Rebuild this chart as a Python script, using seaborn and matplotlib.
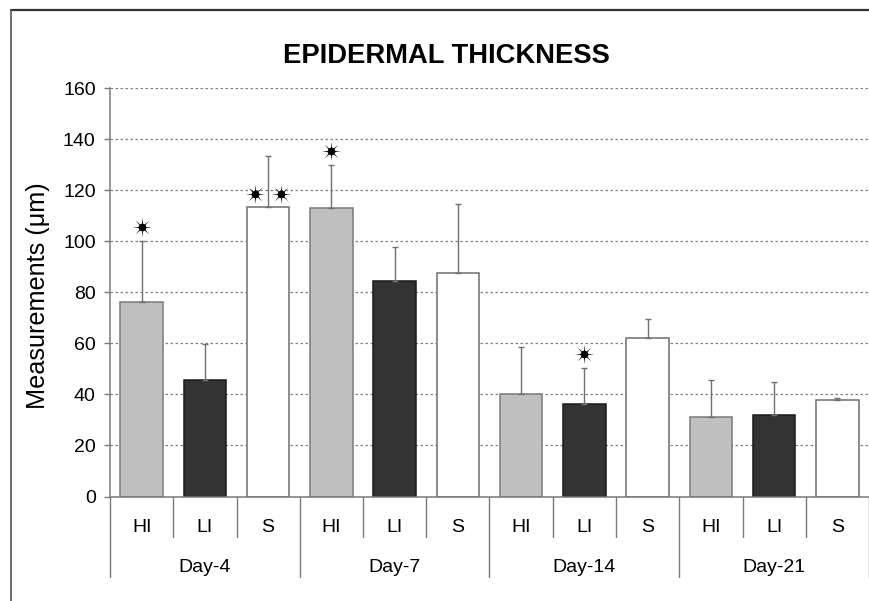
import numpy as np
import pandas as pd
import matplotlib
matplotlib.use("Agg")
import matplotlib.pyplot as plt
from matplotlib.path import Path
from matplotlib.lines import Line2D
from matplotlib.transforms import blended_transform_factory
import seaborn as sns

# Epidermal thickness per treatment group and day
days = ["Day-4", "Day-7", "Day-14", "Day-21"]
groups = ["HI", "LI", "S"]
hi_mean = [76.4, 113.2, 40.3, 31.3]
li_mean = [45.7, 84.5, 36.3, 32.0]
s_mean = [113.5, 87.5, 62.0, 37.9]
hi_err = [23.7, 16.8, 18.2, 14.4]
li_err = [14.1, 13.1, 14.1, 12.9]
s_err = [20.0, 27.2, 7.4, 0.8]
# number of significance stars over each bar
hi_sig = [1, 1, 0, 0]
li_sig = [0, 0, 1, 0]
s_sig = [2, 0, 0, 0]

means = {"HI": hi_mean, "LI": li_mean, "S": s_mean}
errs = {"HI": hi_err, "LI": li_err, "S": s_err}
sigs = {"HI": hi_sig, "LI": li_sig, "S": s_sig}

df = pd.DataFrame(
    [(d, g, means[g][i]) for i, d in enumerate(days) for g in groups],
    columns=["day", "group", "value"],
)

sns.set_theme(style="white")
plt.rcParams["font.family"] = ["Liberation Sans", "DejaVu Sans"]

W, H = 870, 601
fig = plt.figure(figsize=(W / 100, H / 100), dpi=100)
ax_left, ax_right, ax_top, ax_bot = 110, 869, 88.3, 496.5
ax = fig.add_axes([ax_left / W, 1 - ax_bot / H,
                   (ax_right - ax_left) / W, (ax_bot - ax_top) / H])

fills = {"HI": "#c0c0c0", "LI": "#333333", "S": "#ffffff"}
edges = {"HI": "#7a7a7a", "LI": "#1a1a1a", "S": "#6e6e6e"}

sns.barplot(data=df, x="day", y="value", hue="group", order=days,
            hue_order=groups, palette=fills, width=1.0, gap=0.33,
            dodge=True, errorbar=None, legend=False, ax=ax, zorder=2)

# sunburst marker used for significance
star = Path.unit_regular_star(8, 0.2)

for g, cont in zip(groups, ax.containers):
    xs, tops = [], []
    for bar in cont:
        bar.set_edgecolor(edges[g])
        bar.set_linewidth(1.1)
        xs.append(bar.get_x() + bar.get_width() / 2)
        tops.append(bar.get_height())
    xs = np.array(xs)
    tops = np.array(tops)
    e = np.array(errs[g])
    ax.errorbar(xs, tops, yerr=[np.zeros_like(e), e], fmt="none",
                ecolor="#707070", elinewidth=1.0, capsize=2.5,
                capthick=1.0, zorder=3)
    for x, t, err, n in zip(xs, tops, e, sigs[g]):
        if n == 1:
            pts = [(x, t + err + 5.6)]
        elif n == 2:
            pts = [(x - 0.068, t + 5.1), (x + 0.068, t + 5.1)]
        else:
            pts = []
        for px, py in pts:
            ax.plot(px, py, marker=star, ms=14, color="#1a1a1a", mew=0,
                    zorder=4, clip_on=False)
            ax.plot(px, py, marker="o", ms=5.5, color="black", mew=0,
                    zorder=5, clip_on=False)

ax.set_xlim(-0.5, len(days) - 0.5)
ax.set_ylim(0, 160)
ax.set_yticks(np.arange(0, 161, 20))
ax.set_axisbelow(True)
ax.yaxis.grid(True, linestyle=(0, (2, 2)), color="#808080", linewidth=0.9)
ax.xaxis.grid(False)

for s in ["top", "right"]:
    ax.spines[s].set_visible(False)
for s in ["left", "bottom"]:
    ax.spines[s].set_color("#7a7a7a")
    ax.spines[s].set_linewidth(1.1)
ax.tick_params(axis="y", direction="out", length=4.3, width=1.0,
               color="#7a7a7a", pad=6.0, labelsize=14, labelcolor="black",
               left=True)
ax.set_xticks([])
ax.set_xlabel("")
ax.set_ylabel("")

# two-level category axis below the bars
tr = blended_transform_factory(ax.transData, ax.transAxes)
ah = ax_bot - ax_top
y_short = -(537 - ax_bot) / ah
y_long = -(577 - ax_bot) / ah
y_grp = -(527 - ax_bot) / ah
y_day = -(567 - ax_bot) / ah
for i, d in enumerate(days):
    for k, g in enumerate(groups):
        xc = i + (k - 1) / 3
        ax.text(xc, y_grp, g, transform=tr, ha="center", va="center",
                fontsize=14, color="black")
        if k > 0:
            ax.add_line(Line2D([xc - 1 / 6, xc - 1 / 6], [0, y_short],
                               transform=tr, color="#7a7a7a", lw=1.0,
                               clip_on=False))
    ax.text(i, y_day, d, transform=tr, ha="center", va="center",
            fontsize=14, color="black")
for b in range(len(days) + 1):
    ax.add_line(Line2D([b - 0.5, b - 0.5], [0, y_long], transform=tr,
                       color="#7a7a7a", lw=1.0, clip_on=False))

fig.text(38 / W, 1 - 295.5 / H, "Measurements (\u03bcm)", rotation=90,
         ha="center", va="center", fontsize=18.2, color="black")
fig.text(446.5 / W, 1 - 56 / H, "EPIDERMAL THICKNESS", ha="center",
         va="center", fontsize=19.7, fontweight="bold", color="black")

# outer frame (top and left edges)
fx, fy = 11 / W, 1 - 10 / H
fig.add_artist(Line2D([fx, 1.0], [fy, fy], transform=fig.transFigure,
                      color="#333333", lw=1.6))
fig.add_artist(Line2D([fx, fx], [fy, 0.0], transform=fig.transFigure,
                      color="#555555", lw=1.2))

fig.savefig("out.png", dpi=100)
